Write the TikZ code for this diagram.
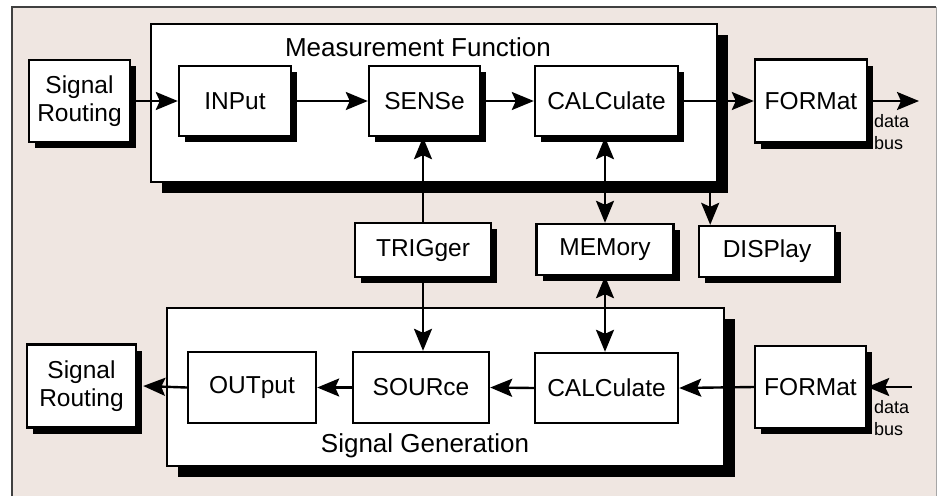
\documentclass[tikz,border=0pt]{standalone}
\usepackage{fontspec}
\setmainfont{Liberation Sans}
\usetikzlibrary{shadows,arrows.meta}
\definecolor{bg}{RGB}{239,230,225}
\begin{document}
\begin{tikzpicture}[x=1pt,y=-1pt,
  box/.style={draw, line width=2.4pt, fill=white, inner sep=0pt, align=center,
    font=\fontsize{24.5}{28}\selectfont},
  shsmall/.style={drop shadow={shadow xshift=6pt, shadow yshift=-6pt, opacity=1, fill=black}},
  shbig/.style={drop shadow={shadow xshift=11pt, shadow yshift=-11pt, opacity=1, fill=black}},
  title/.style={font=\fontsize{26}{30}\selectfont, inner sep=0pt},
  buslbl/.style={font=\fontsize{18}{22}\selectfont, align=left, inner sep=0pt},
  tip/.tip={Stealth[length=22pt,width=18pt,inset=4pt]},
  arr/.style={line width=2.4pt, -tip},
  arrb/.style={line width=2.4pt, tip-tip}
]
\useasboundingbox (0,0) rectangle (944,496);
\fill[bg] (12,7) rectangle (936,496);
\draw[line width=1.5pt, black!75] (12,496) -- (12,7) -- (936,7);
\draw[line width=1pt, black!35] (936,7) -- (936,496);

% outer groups
\node[box, shbig, minimum width=566pt, minimum height=158pt] (mf) at (434,103) {};
\node[box, shbig, minimum width=557pt, minimum height=158pt] (sg) at (445.5,387) {};
\node[title] (mft) at (418,47) {Measurement Function};
\node[title] (sgt) at (425,446) {Signal Generation};

% top row
\node[box, shsmall, minimum width=101pt, minimum height=82pt] (sr1) at (79.5,101) {Signal\\Routing};
\node[box, shsmall, minimum width=112pt, minimum height=70pt] (inp) at (235,101) {INPut};
\node[box, shsmall, minimum width=111pt, minimum height=70pt] (sen) at (424.5,101) {SENSe};
\node[box, shsmall, minimum width=143pt, minimum height=70pt] (cal1) at (606.5,101) {CALCulate};
\node[box, shsmall, minimum width=112pt, minimum height=83pt] (fmt1) at (811,101) {FORMat};
\coordinate (db1) at (919,101);
\node[buslbl, anchor=north west] (bus1) at (874,114) {data\\bus};

% middle row
\node[box, shsmall, minimum width=136pt, minimum height=54pt] (trig) at (423,250) {TRIGger};
\node[box, shsmall, minimum width=137pt, minimum height=51pt] (mem) at (605,249.5) {MEMory};
\node[box, shsmall, minimum width=136pt, minimum height=51pt] (disp) at (767,251.5) {DISPlay};

% bottom row
\node[box, shsmall, minimum width=109pt, minimum height=83pt] (sr2) at (81.5,386) {Signal\\Routing};
\node[box, minimum width=128pt, minimum height=71pt] (out) at (252,387.5) {OUTput};
\node[box, minimum width=136pt, minimum height=71pt] (src) at (421,387.5) {SOURce};
\node[box, minimum width=143pt, minimum height=70pt] (cal2) at (606.5,388) {CALCulate};
\node[box, shsmall, minimum width=111pt, minimum height=82pt] (fmt2) at (810.5,387) {FORMat};
\coordinate (db2) at (912,387);
\node[buslbl, anchor=north west] (bus2) at (874,400) {data\\bus};

% top connectors
\draw[arr] (sr1.east) -- (inp.west);
\draw[arr] (inp.east) -- (sen.west);
\draw[arr] (sen.east) -- (cal1.west);
\draw[arr] (cal1.east) -- (fmt1.west);
\draw[arr] (fmt1.east) -- (db1);

% vertical connectors
\draw[arr] (trig.north) -- (trig.north |- sen.south);
\draw[arr] (trig.south) -- (trig.south |- src.north);
\draw[arrb] (mem.north) -- (mem.north |- cal1.south);
\draw[arrb] (mem.south) -- (mem.south |- cal2.north);
\draw[arr] ([xshift=-8pt,yshift=-10pt]mf.south east) -- ([xshift=-8pt]mf.south east |- disp.north);

% bottom connectors
\draw[arr] (db2) -- (fmt2.east);
\draw[arr] (fmt2.west) -- (cal2.east);
\draw[arr] (cal2.west) -- (src.east);
\draw[arr] (src.west) -- (out.east);
\draw[arr] (out.west) -- ([xshift=6pt]sr2.east);
\end{tikzpicture}
\end{document}
